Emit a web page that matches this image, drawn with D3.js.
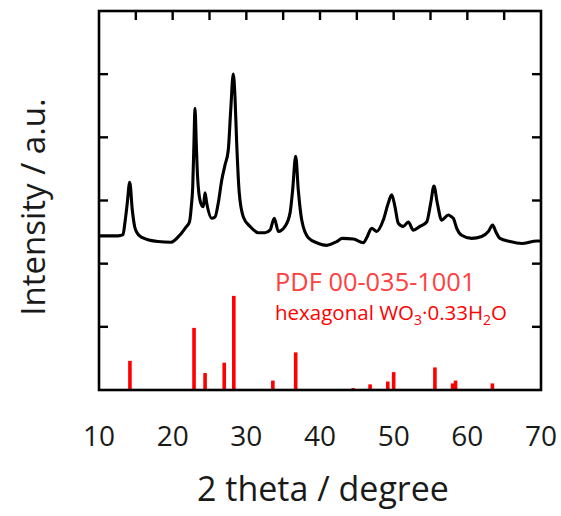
<!DOCTYPE html>
<html>
<head>
<meta charset="utf-8">
<script src="https://cdn.jsdelivr.net/npm/d3@7"></script>
<style>
  body { margin: 0; background: #fff; }
  text { font-family: "Open Sans", sans-serif; }
</style>
</head>
<body>
<div id="chart"></div>
<script>
const width = 561,
    height = 516;
const margin = {top: 11, right: 20, bottom: 126, left: 99};

// measured pattern: 2 theta (deg) and intensity (a.u.)
const xrdTheta = [10.00, 12.58, 13.26, 13.53, 13.84, 14.17, 14.52, 14.85, 15.16, 15.74, 18.01, 19.77, 20.95, 21.81,
    22.28, 22.55, 22.72, 22.90, 23.03, 23.21, 23.37, 23.48, 23.81, 24.16, 24.39, 24.62, 25.30, 25.75, 26.19,
    26.66, 27.10, 27.55, 27.88, 28.23, 28.46, 28.69, 29.04, 29.59, 30.50, 31.62, 32.53, 33.21, 33.80, 34.34,
    35.25, 35.93, 36.29, 36.70, 37.05, 37.52, 38.41, 39.77, 40.91, 42.27, 43.03, 44.52, 45.88, 46.34, 47.02,
    47.70, 48.59, 49.27, 49.73, 50.18, 50.63, 51.31, 51.99, 52.67, 53.57, 54.48, 55.03, 55.47, 55.92, 56.52,
    57.42, 57.88, 58.09, 58.56, 59.23, 60.59, 61.95, 62.85, 63.44, 63.85, 64.43, 65.79, 67.38, 69.42, 70.00];
const xrdCounts = [244, 244, 246, 266, 296, 329, 285, 258, 249, 242, 235, 234, 245, 258,
    266, 293, 321, 396, 446, 388, 340, 321, 296, 290, 312, 296, 272, 274, 296,
    332, 356, 380, 443, 500, 464, 391, 312, 274, 259, 249, 249, 253, 272, 251,
    259, 280, 317, 370, 317, 269, 241, 232, 229, 235, 240, 239, 233, 241, 256,
    251, 269, 296, 309, 290, 264, 259, 266, 253, 259, 266, 296, 323, 296, 269,
    277, 274, 272, 256, 245, 240, 243, 251, 261, 251, 240, 235, 232, 236, 236];

// reference pattern PDF 00-035-1001 (relative intensity, %)
const pdfTheta = [14.2, 22.9, 24.4, 27.0, 28.3, 33.6, 36.7, 43.1, 44.5, 46.8, 49.2, 50.0, 55.6, 58.0, 58.4, 63.4];
const pdfIntensity = [31, 66, 18, 29, 100, 10, 40, 1, 2, 6, 9, 19, 24, 7, 10, 7];

const xTicks = [10, 20, 30, 40, 50, 60, 70];
const xMinorTicks = [15, 20, 25, 30, 35, 40, 45, 50, 55, 60, 65];
const yTicks = [100, 200, 300, 400, 500];

const svg = d3.select('#chart').append('svg')
    .attr('width', width)
    .attr('height', height);

const x = d3.scaleLinear()
    .domain([10, 70])
    .range([margin.left, width - margin.right]);

const y = d3.scaleLinear()
    .domain([0, 600])
    .range([height - margin.bottom, margin.top]);

// stick pattern has its own scale, 100 % ~ 1.5 intensity ticks
const yPdf = d3.scaleLinear()
    .domain([0, 100])
    .range([y(0), y(149)]);

const plotTop = margin.top,
    plotBottom = height - margin.bottom,
    plotLeft = margin.left,
    plotRight = width - margin.right;

// red sticks
svg.append('g')
    .selectAll('rect')
    .data(pdfTheta)
    .enter().append('rect')
    .attr('x', d => x(d) - 1.8)
    .attr('width', 3.6)
    .attr('y', (d, i) => yPdf(pdfIntensity[i]))
    .attr('height', (d, i) => yPdf(0) - yPdf(pdfIntensity[i]))
    .attr('fill', '#ff0000');

// measured curve
const line = d3.line()
    .x(d => x(d[0]))
    .y(d => y(d[1]))
    .curve(d3.curveMonotoneX);

svg.append('path')
    .datum(xrdTheta.map((t, i) => [t, xrdCounts[i]]))
    .attr('d', line)
    .attr('fill', 'none')
    .attr('stroke', '#000')
    .attr('stroke-width', 3.1)
    .attr('stroke-linejoin', 'round');

// frame
svg.append('rect')
    .attr('x', plotLeft)
    .attr('y', plotTop)
    .attr('width', plotRight - plotLeft)
    .attr('height', plotBottom - plotTop)
    .attr('fill', 'none')
    .attr('stroke', '#000')
    .attr('stroke-width', 2.6);

const tickLen = 9;

// top inward ticks
svg.append('g')
    .selectAll('line')
    .data(xMinorTicks)
    .enter().append('line')
    .attr('x1', d => x(d)).attr('x2', d => x(d))
    .attr('y1', plotTop).attr('y2', plotTop + tickLen)
    .attr('stroke', '#000')
    .attr('stroke-width', 2.4);

// left and right inward ticks
[[plotLeft, 1], [plotRight, -1]].forEach(([px, dir]) => {
    svg.append('g')
        .selectAll('line')
        .data(yTicks)
        .enter().append('line')
        .attr('x1', px).attr('x2', px + dir * tickLen)
        .attr('y1', d => y(d)).attr('y2', d => y(d))
        .attr('stroke', '#000')
        .attr('stroke-width', 2.4);
});

// x tick labels
svg.append('g')
    .selectAll('text')
    .data(xTicks)
    .enter().append('text')
    .attr('x', d => x(d))
    .attr('y', 446)
    .attr('text-anchor', 'middle')
    .style('font-size', '28px')
    .attr('fill', '#1a1a1a')
    .text(d => d);

// axis titles
svg.append('text')
    .attr('x', (plotLeft + plotRight) / 2 + 3)
    .attr('y', 501)
    .attr('text-anchor', 'middle')
    .style('font-size', '34px')
    .attr('fill', '#1a1a1a')
    .text('2 theta / degree');

svg.append('text')
    .attr('transform', 'translate(45,207) rotate(-90)')
    .attr('text-anchor', 'middle')
    .style('font-size', '33px')
    .attr('fill', '#1a1a1a')
    .text('Intensity / a.u.');

// PDF card labels
svg.append('text')
    .attr('x', 275)
    .attr('y', 291)
    .style('font-size', '25.4px')
    .attr('fill', '#ff4040')
    .text('PDF 00-035-1001');

const card = svg.append('text')
    .attr('x', 275)
    .attr('y', 320)
    .style('font-size', '20.5px')
    .attr('fill', '#ff0000');
card.append('tspan').text('hexagonal WO');
card.append('tspan').attr('dy', 5).style('font-size', '14px').text('3');
card.append('tspan').attr('dy', -5).text('\u00b70.33H');
card.append('tspan').attr('dy', 5).style('font-size', '14px').text('2');
card.append('tspan').attr('dy', -5).text('O');
</script>
</body>
</html>
